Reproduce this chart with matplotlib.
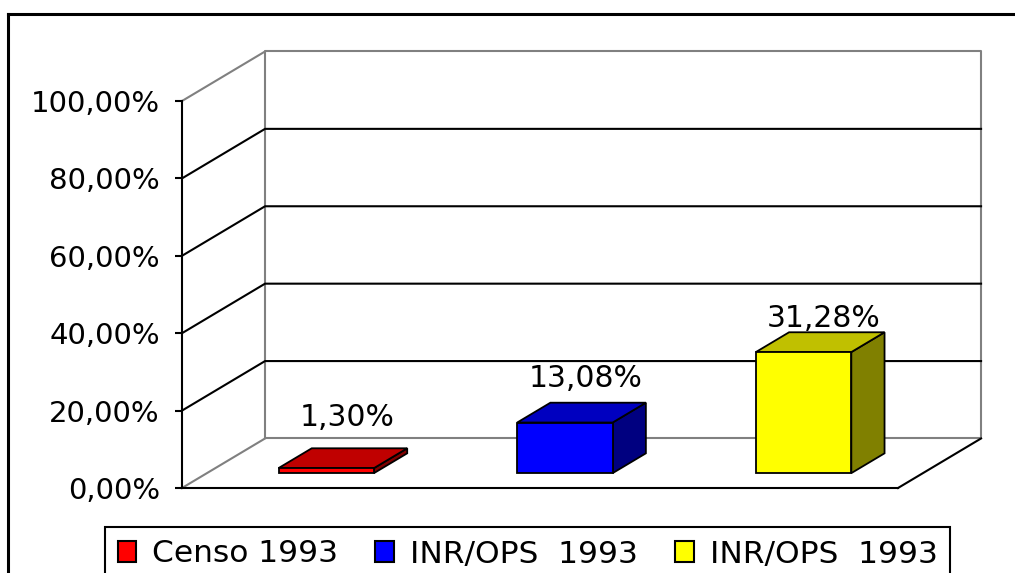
import matplotlib
matplotlib.use('Agg')
import matplotlib.pyplot as plt
from matplotlib.patches import Polygon, Patch
from matplotlib.lines import Line2D
from matplotlib.ticker import FuncFormatter

# datos
categorias = ['Censo 1993', 'INR/OPS  1993', 'INR/OPS  1993']
valores = [1.30, 13.08, 31.28]

# colores de cada barra: frente, tapa, costado
col_frente = ['#FF0000', '#0000FF', '#FFFF00']
col_tapa = ['#C00000', '#0000C0', '#C0C000']
col_lado = ['#800000', '#000080', '#808000']

plt.rcParams['font.family'] = ['DejaVu Sans']
gris = '#808080'
lw = 1.5

# profundidad de la vista oblicua (en unidades de datos)
DX = 0.348
DY = 12.8
d0, d1 = 0.3, 0.7   # profundidad de las barras
ancho = 0.4

fig = plt.figure(figsize=(10.15, 5.73), dpi=100)
fig.patch.set_facecolor('white')

# marco exterior
fig.add_artist(Line2D([8/1015, 8/1015], [-0.1, 1 - 14/573], color='black', lw=2.2))
fig.add_artist(Line2D([8/1015, 1.1], [1 - 14/573, 1 - 14/573], color='black', lw=2.2))

ax = fig.add_axes([182/1015, 85/573, 716/1015, 387/573])
ax.set_xlim(0, 3)
ax.set_ylim(0, 100)
ax.patch.set_alpha(0)
for s in ['top', 'right']:
    ax.spines[s].set_visible(False)
for s in ['left', 'bottom']:
    ax.spines[s].set_linewidth(lw)
    ax.spines[s].set_zorder(3)
ax.set_xticks([])
ax.set_yticks(range(0, 101, 20))
ax.yaxis.set_major_formatter(FuncFormatter(lambda v, p: f'{v:.2f}%'.replace('.', ',')))
ax.tick_params(axis='y', direction='out', length=5, width=lw, pad=11, labelsize=21)

# paredes y piso
ax.plot([DX, DX, 3 + DX, 3 + DX, DX], [DY, 100 + DY, 100 + DY, DY, DY],
        color=gris, lw=lw, clip_on=False, zorder=1)
ax.plot([0, DX], [100, 100 + DY], color=gris, lw=lw, clip_on=False, zorder=1)
ax.plot([0, DX], [0, DY], color=gris, lw=lw, clip_on=False, zorder=1)
for g in range(20, 100, 20):
    ax.plot([0, DX, 3 + DX], [g, g + DY, g + DY], color='black', lw=lw, clip_on=False, zorder=2)
ax.plot([3, 3 + DX], [0, DY], color='black', lw=lw, clip_on=False, zorder=2)

# barras 3D
for i, v in enumerate(valores):
    c = i + 0.5
    x0 = c - ancho / 2 + d0 * DX
    x1 = c + ancho / 2 + d0 * DX
    y0 = d0 * DY
    y1 = v + d0 * DY
    ox = (d1 - d0) * DX
    oy = (d1 - d0) * DY
    frente = [(x0, y0), (x1, y0), (x1, y1), (x0, y1)]
    tapa = [(x0, y1), (x1, y1), (x1 + ox, y1 + oy), (x0 + ox, y1 + oy)]
    lado = [(x1, y0), (x1 + ox, y0 + oy), (x1 + ox, y1 + oy), (x1, y1)]
    for pts, col in [(lado, col_lado[i]), (tapa, col_tapa[i]), (frente, col_frente[i])]:
        ax.add_patch(Polygon(pts, closed=True, facecolor=col, edgecolor='black',
                             lw=1.3, joinstyle='miter', clip_on=False, zorder=5))
    ax.text(c + 0.19, 15 + 0.85 * v, f'{v:.2f}%'.replace('.', ','),
            ha='center', va='baseline', fontsize=21.5, clip_on=False, zorder=6)

# leyenda
handles = [Patch(facecolor=col_frente[i], edgecolor='black', lw=1.5) for i in range(3)]
leg = fig.legend(handles, categorias, loc='upper left',
                 bbox_to_anchor=(105/1015, 1 - 527/573), borderaxespad=0,
                 ncol=3, fontsize=22.5, frameon=True, fancybox=False,
                 handlelength=0.6, handleheight=0.62, handletextpad=0.5,
                 columnspacing=1.2, borderpad=0.4)
leg.get_frame().set_edgecolor('black')
leg.get_frame().set_linewidth(1.5)
leg.get_frame().set_alpha(1)

fig.savefig('out.png', dpi=100)
